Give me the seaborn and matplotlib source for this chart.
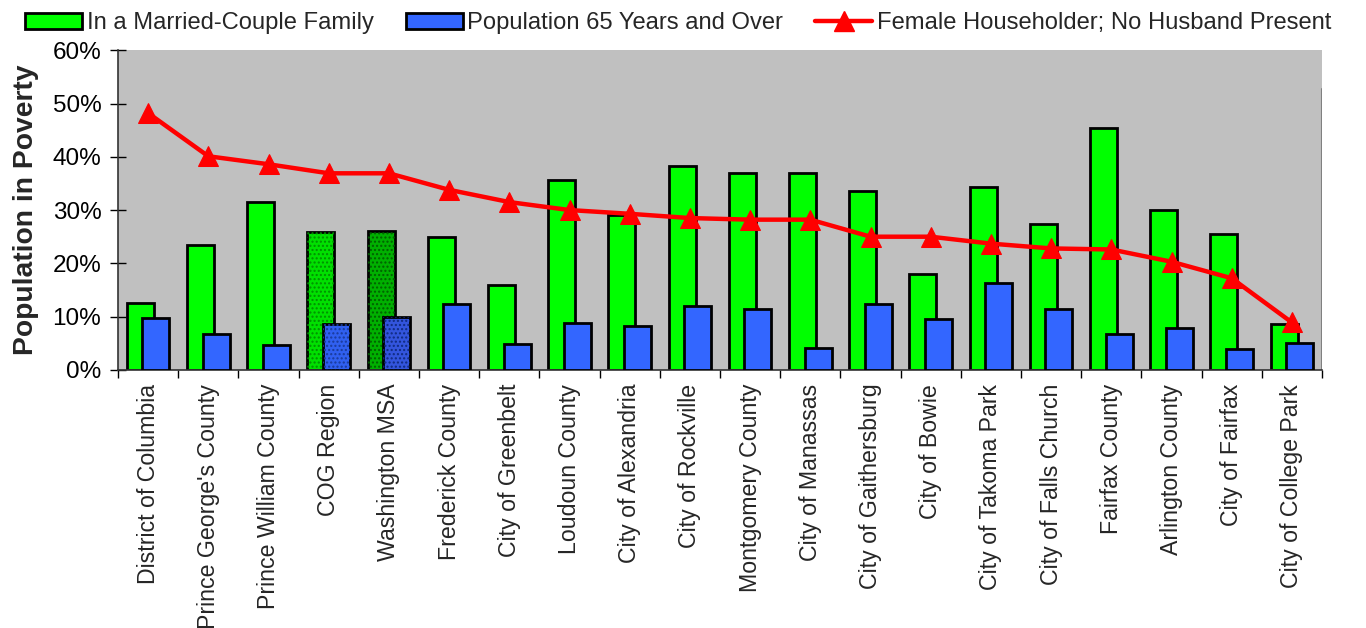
import numpy as np
import matplotlib
matplotlib.use("Agg")
import matplotlib.pyplot as plt
from matplotlib.patches import Patch, Rectangle
from matplotlib.lines import Line2D
from matplotlib.ticker import FuncFormatter, FixedLocator
import seaborn as sns

# data (percent of population in poverty)
places = [
    "District of Columbia", "Prince George's County", "Prince William County",
    "COG Region", "Washington MSA", "Frederick County", "City of Greenbelt",
    "Loudoun County", "City of Alexandria", "City of Rockville",
    "Montgomery County", "City of Manassas", "City of Gaithersburg",
    "City of Bowie", "City of Takoma Park", "City of Falls Church",
    "Fairfax County", "Arlington County", "City of Fairfax", "City of College Park",
]
married_couple = [12.5, 23.5, 31.5, 25.8, 26.0, 25.0, 16.0, 35.7, 29.1, 38.2,
                  37.0, 36.9, 33.6, 18.0, 34.3, 27.3, 45.4, 30.0, 25.5, 8.7]
age_65_over = [9.8, 6.7, 4.7, 8.7, 10.0, 12.3, 4.8, 8.8, 8.2, 12.0,
               11.5, 4.2, 12.3, 9.6, 16.3, 11.4, 6.7, 7.8, 4.0, 5.0]
female_householder = [48.2, 40.1, 38.6, 36.9, 36.9, 33.8, 31.5, 30.0, 29.3, 28.5,
                      28.2, 28.2, 25.0, 25.0, 23.7, 22.8, 22.6, 20.3, 17.2, 8.9]
series_names = ["In a Married-Couple Family", "Population 65 Years and Over",
                "Female Householder; No Husband Present"]
highlight = ["COG Region", "Washington MSA"]

GREEN = "#00FF00"
BLUE = "#3366FF"
RED = "#FF0000"

sns.set_theme(style="white")
plt.rcParams["font.family"] = ["Liberation Sans", "DejaVu Sans"]

fig = plt.figure(figsize=(13.66, 6.28), dpi=100)
ax = fig.add_axes([0.0864, 0.411, 0.8814, 0.509])
ax.set_facecolor("#C0C0C0")

idx = np.arange(len(places))
shift = 0.13

sns.barplot(x=idx - shift, y=married_couple, native_scale=True, width=0.45,
            color=GREEN, saturation=1, edgecolor="black", linewidth=2,
            errorbar=None, ax=ax)
n_green = len(ax.patches)
sns.barplot(x=idx + shift, y=age_65_over, native_scale=True, width=0.45,
            color=BLUE, saturation=1, edgecolor="black", linewidth=2,
            errorbar=None, ax=ax)
green_bars = ax.patches[:n_green]
blue_bars = ax.patches[n_green:]
for p in green_bars:
    p.set_zorder(2)
for p in blue_bars:
    p.set_zorder(3)

# stippled fill for the regional totals
shade = {"COG Region": ("#00E000", "#009000", "#3060F0", "#1a3a9a"),
         "Washington MSA": ("#00B000", "#006000", "#3355DD", "#102a80")}
for name in highlight:
    i = places.index(name)
    g_fill, g_dot, b_fill, b_dot = shade[name]
    for bar, fill, dot, z in [(green_bars[i], g_fill, g_dot, 2.1),
                              (blue_bars[i], b_fill, b_dot, 3.1)]:
        bar.set_facecolor(fill)
        ax.add_patch(Rectangle(bar.get_xy(), bar.get_width(), bar.get_height(),
                               facecolor="none", edgecolor=dot, hatch="....",
                               linewidth=0, zorder=z))

sns.lineplot(x=idx, y=female_householder, color=RED, linewidth=3.2,
             marker="^", markersize=15, markeredgecolor=RED, ax=ax, zorder=5)

ax.set_xlim(-0.5, len(places) - 0.5)
ax.set_ylim(0, 60)
ax.yaxis.set_major_locator(FixedLocator(np.arange(0, 61, 10)))
ax.yaxis.set_major_formatter(FuncFormatter(lambda v, _: f"{v:.0f}%"))
ax.tick_params(axis="y", direction="inout", length=12, width=1, colors="black",
               labelsize=17.5, left=True, pad=6)

ax.set_xticks(idx)
ax.set_xticklabels(places, rotation=90, fontsize=16.7, va="top", ha="center")
ax.set_xticks(np.arange(-0.5, len(places), 1), minor=True)
ax.tick_params(axis="x", which="major", length=0, pad=10)
ax.tick_params(axis="x", which="minor", direction="out", length=6, width=1,
               bottom=True, color="black")

for side in ["top", "right"]:
    ax.spines[side].set_visible(False)
for side in ["left", "bottom"]:
    ax.spines[side].set_color("#333333")
    ax.spines[side].set_linewidth(1.2)
# faint grey edge on the right of the plot area, as in the original
ax.axvline(len(places) - 0.5, ymin=0, ymax=0.88, color="#808080", linewidth=1.5,
           zorder=1)

ax.set_xlabel("")
ax.set_ylabel("Population in Poverty", fontsize=20.3, fontweight="bold")
ax.yaxis.set_label_coords(-0.066, 0.5)

handles = [
    Patch(facecolor=GREEN, edgecolor="black", linewidth=2),
    Patch(facecolor=BLUE, edgecolor="black", linewidth=2),
    Line2D([], [], color=RED, linewidth=3.2, marker="^", markersize=15,
           markeredgecolor=RED),
]
fig.legend(handles, series_names, loc="center left",
           bbox_to_anchor=(13 / 1366, 1 - 23 / 628), borderpad=0,
           ncol=3, frameon=False, fontsize=17.1, handlelength=2.4,
           handleheight=0.67, handletextpad=0.2, columnspacing=1.35)

fig.savefig("out.png", dpi=100, facecolor="white")
